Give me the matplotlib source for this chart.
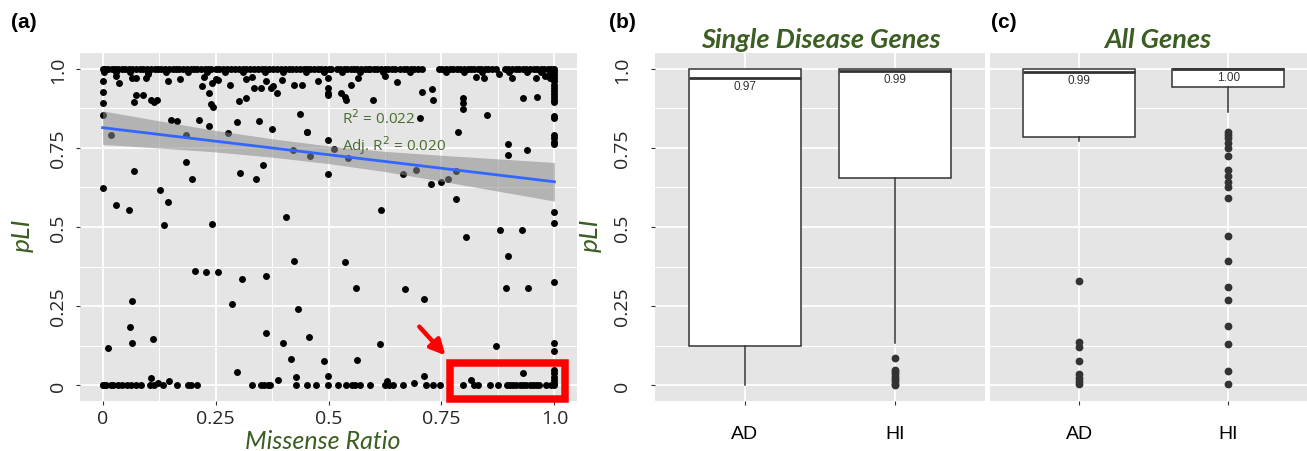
import numpy as np
import matplotlib
matplotlib.use("Agg")
import matplotlib.pyplot as plt
from matplotlib.patches import Rectangle

# ---------------- data ----------------
# panel (a): missense ratio vs pLI
top_x = [0.00,0.005,0.012,0.02,0.028,0.035,0.042,0.05,0.058,0.066,0.075,0.083,0.09,0.098,0.107,0.115,
         0.122,0.13,0.138,0.147,0.155,0.163,0.17,0.178,0.186,0.195,0.203,0.21,0.218,0.226,0.233,0.241,
         0.25,0.258,0.266,0.275,0.285,0.293,0.302,0.31,0.318,0.327,0.335,0.343,0.352,0.36,0.368,0.377,
         0.386,0.395,0.404,0.412,0.42,0.428,0.437,0.445,0.453,0.46,0.468,0.476,0.484,0.492,0.5,0.506,
         0.518,0.526,0.534,0.541,0.549,0.556,0.564,0.572,0.58,0.587,0.592,0.6,0.608,0.616,0.624,0.632,
         0.64,0.648,0.658,0.666,0.674,0.682,0.69,0.698,0.706,0.744,0.752,0.76,0.768,0.776,0.784,0.792,
         0.8,0.808,0.815,0.822,0.83,0.838,0.846,0.854,0.862,0.87,0.89,0.898,0.906,0.914,0.922,0.93,
         0.938,0.946,0.954,0.962,0.97,0.978,0.985,0.992,1.0]
top2_x = [0.003,0.03,0.06,0.1,0.14,0.19,0.23,0.27,0.31,0.36,0.4,0.45,0.49,0.53,0.57,0.62,0.68,
          0.76,0.8,0.84,0.9,0.94,0.97,0.99]
zero_x = [0.0,0.002,0.007,0.018,0.024,0.034,0.044,0.054,0.063,0.074,0.085,0.105,0.113,0.134,0.165,
          0.189,0.196,0.209,0.331,0.351,0.358,0.366,0.371,0.427,0.452,0.473,0.499,0.521,0.539,0.551,
          0.558,0.569,0.591,0.626,0.635,0.643,0.665,0.715,0.731,0.746,0.797,0.823,0.831,0.857,0.875,
          0.894,0.901,0.908,0.916,0.923,0.93,0.938,0.945,0.952,0.96,0.967,0.982,0.993,1.0]
right_col_pli = [0.99,0.98,0.97,0.96,0.95,0.94,0.93,0.92,0.91,0.90,0.895,0.85,0.845,0.79,0.78,0.77,
                 0.763,0.547,0.514,0.325,0.132,0.109,0.048,0.038,0.027,0.017,0.006]
left_col_pli = [0.962,0.927,0.892,0.854,0.624]
other_x = [0.03,0.036,0.065,0.074,0.097,0.1,0.145,0.172,0.22,0.225,0.242,0.252,0.255,0.283,0.318,0.33,
           0.336,0.351,0.362,0.373,0.378,0.386,0.398,0.423,0.441,0.476,0.499,0.499,0.499,0.499,0.528,
           0.537,0.539,0.55,0.565,0.598,0.626,0.651,0.707,0.729,0.731,0.797,0.797,0.797,0.827,0.845,
           0.877,0.906,0.931,0.961,0.96,0.98,0.99,
           0.019,0.07,0.074,0.09,0.108,0.114,0.12,0.152,0.165,0.185,0.213,0.235,0.236,0.24,0.244,0.277,
           0.303,0.318,0.298,0.346,0.374,0.436,0.453,0.499,0.499,0.422,0.458,0.07,0.126,0.145,0.185,
           0.198,0.305,0.339,0.355,0.406,0.03,0.058,0.135,0.242,
           0.452,0.513,0.544,0.702,0.664,0.693,0.726,0.748,0.765,0.782,0.782,0.787,0.851,0.897,0.897,
           0.939,0.617,0.88,0.929,
           0.205,0.229,0.256,0.308,0.362,0.423,0.287,0.432,0.066,0.061,0.066,0.012,0.111,0.362,0.399,
           0.456,0.417,0.491,0.298,0.108,0.122,0.147,0.388,0.427,0.499,
           0.537,0.561,0.563,0.67,0.712,0.613,0.69,0.712,0.63,0.804,0.897,0.893,0.942,0.871,0.815,0.931]
other_pli = [0.976,0.954,0.97,0.97,0.97,0.985,0.96,0.968,0.945,0.975,0.955,0.968,0.965,0.95,0.967,0.975,
             0.94,0.94,0.96,0.94,0.945,0.924,0.965,0.95,0.95,0.962,0.97,0.939,0.923,0.916,0.923,
             0.91,0.902,0.95,0.97,0.902,0.977,0.958,0.928,0.937,0.903,0.909,0.893,0.874,0.975,0.97,
             0.983,0.97,0.907,0.911,0.97,0.976,0.97,
             0.79,0.894,0.917,0.917,0.9,0.895,0.9,0.838,0.834,0.79,0.837,0.82,0.924,0.889,0.878,0.798,
             0.899,0.907,0.832,0.836,0.81,0.858,0.801,0.774,0.666,0.742,0.724,0.676,0.616,0.58,0.707,
             0.652,0.671,0.653,0.697,0.532,0.571,0.553,0.505,0.51,
             0.8,0.745,0.718,0.846,0.669,0.68,0.635,0.641,0.651,0.676,0.589,0.8,0.853,0.761,0.729,
             0.744,0.555,0.492,0.489,
             0.361,0.357,0.359,0.337,0.344,0.393,0.256,0.24,0.266,0.185,0.132,0.116,0.146,0.164,0.132,
             0.152,0.084,0.078,0.042,0.022,0.008,0.012,0.016,0.025,0.029,
             0.389,0.308,0.079,0.304,0.271,0.129,0.007,0.029,0.014,0.468,0.408,0.306,0.306,0.125,0.017,0.038]

# linear fit and confidence band
fit_x = [0.0, 1.0]
fit_y = [0.814, 0.643]
band_x = [0.0, 0.125, 0.25, 0.375, 0.5, 0.625, 0.75, 0.875, 1.0]
band_half = [0.053, 0.043, 0.034, 0.029, 0.028, 0.032, 0.041, 0.051, 0.061]

# panels (b) and (c): box plots
groups = ["AD", "HI"]
b_q1 = [0.124, 0.654]; b_med = [0.972, 0.993]; b_q3 = [1.0, 1.0]
b_wlo = [0.0, 0.132]; b_whi = [1.0, 1.0]
b_fliers = [[], [0.085, 0.048, 0.041, 0.034, 0.027, 0.02, 0.012, 0.005, 0.0]]
c_q1 = [0.785, 0.944]; c_med = [0.991, 0.998]; c_q3 = [1.0, 1.0]
c_wlo = [0.771, 0.863]; c_whi = [1.0, 1.0]
c_fliers = [[0.329, 0.136, 0.12, 0.075, 0.035, 0.024, 0.012, 0.003],
            [0.80, 0.79, 0.78, 0.767, 0.75, 0.725, 0.679, 0.66, 0.643, 0.627, 0.592, 0.471,
             0.392, 0.31, 0.269, 0.188, 0.131, 0.045, 0.003]]

yticks = [0, 0.25, 0.5, 0.75, 1.0]
ytick_labels = ["0", "0.25", "0.5", "0.75", "1.0"]
xticks_a = [0, 0.25, 0.5, 0.75, 1.0]
xtick_labels_a = ["0", "0.25", "0.5", "0.75", "1.0"]

# ---------------- style ----------------
BG = "#E5E5E5"
GREEN = "#3B5E22"
TXT = "#262626"
W, H = 1307, 452

fig = plt.figure(figsize=(W / 100, H / 100), dpi=100)

def ax_rect(x0, x1, y0=54, y1=402):
    return [x0 / W, 1 - y1 / H, (x1 - x0) / W, (y1 - y0) / H]

def style(ax):
    ax.set_facecolor(BG)
    for s in ax.spines.values():
        s.set_visible(False)
    ax.set_axisbelow(True)
    ax.tick_params(axis="both", which="major", length=3, color="#333333", width=0.8)
    ax.tick_params(axis="both", which="minor", length=0)

def hgrid(ax):
    for y in yticks:
        ax.axhline(y, color="white", lw=1.3, zorder=0)
    for y in [0.125, 0.375, 0.625, 0.875]:
        ax.axhline(y, color="white", lw=0.7, zorder=0)

# ---------- panel (a) ----------
axa = fig.add_axes(ax_rect(80, 577))
style(axa)
axa.set_xlim(-0.05, 1.05)
axa.set_ylim(-0.05, 1.05)
hgrid(axa)
for x in xticks_a:
    axa.axvline(x, color="white", lw=1.3, zorder=0)
for x in [0.125, 0.375, 0.625, 0.875]:
    axa.axvline(x, color="white", lw=0.7, zorder=0)

S = 25
axa.scatter(top_x, [1.0] * len(top_x), s=S, color="black", lw=0, zorder=2)
axa.scatter(top2_x, [0.99] * len(top2_x), s=S, color="black", lw=0, zorder=2)
axa.scatter(zero_x, [0.0] * len(zero_x), s=S, color="black", lw=0, zorder=2)
axa.scatter([1.0] * len(right_col_pli), right_col_pli, s=S, color="black", lw=0, zorder=2)
axa.scatter([0.0] * len(left_col_pli), left_col_pli, s=S, color="black", lw=0, zorder=2)
axa.scatter(other_x, other_pli, s=S, color="black", lw=0, zorder=2)

bx = np.array(band_x)
line_at_band = np.interp(bx, fit_x, fit_y)
axa.fill_between(bx, line_at_band - np.array(band_half), line_at_band + np.array(band_half),
                 color="#8a8a8a", alpha=0.55, lw=0, zorder=3)
axa.plot(fit_x, fit_y, color="#3366FF", lw=2.0, zorder=4)

axa.set_xticks(xticks_a)
axa.set_xticklabels(xtick_labels_a, fontsize=14, family="Open Sans", color=TXT)
axa.set_yticks(yticks)
axa.set_yticklabels(ytick_labels, fontsize=14, family="Open Sans", color=TXT,
                    rotation=90, va="center")
axa.tick_params(axis="y", pad=6)
axa.tick_params(axis="x", pad=3)

axa.text(0.53, 0.845, "R$^2$ = 0.022", fontsize=11, color="#4A6B2E", family="Open Sans",
         va="center", ha="left", zorder=5)
axa.text(0.53, 0.76, "Adj. R$^2$ = 0.020", fontsize=11, color="#4A6B2E", family="Open Sans",
         va="center", ha="left", zorder=5)

axa.add_patch(Rectangle((0.770, -0.043), 0.253, 0.114, fill=False, ec="#FF0000", lw=5.4,
                        clip_on=False, zorder=6))
axa.annotate("", xy=(0.759, 0.094), xytext=(0.701, 0.185),
             arrowprops=dict(arrowstyle="-|>,head_length=0.9,head_width=0.45", color="#FF0000",
                             lw=3.2, shrinkA=0, shrinkB=0),
             annotation_clip=False, zorder=6)

fig.text(323 / W, 1 - 449 / H, "Missense Ratio", fontsize=18, color=GREEN, style="italic",
         family="Lato", ha="center", va="baseline")
fig.text(22 / W, 1 - 235 / H, "pLI", fontsize=19, color=GREEN, style="italic",
         family="Lato", ha="center", va="center", rotation=90)

# ---------- box panels ----------
def box_panel(ax, q1, med, q3, wlo, whi, fliers, show_y):
    style(ax)
    ax.set_ylim(-0.05, 1.05)
    hgrid(ax)
    for x in [1, 2]:
        ax.axvline(x, color="white", lw=1.3, zorder=0)
    stats = []
    for i, g in enumerate(groups):
        stats.append(dict(label=g, q1=q1[i], med=med[i], q3=q3[i], whislo=wlo[i], whishi=whi[i],
                          fliers=fliers[i]))
    ax.bxp(stats, positions=[1, 2], widths=0.75, showcaps=False, patch_artist=True,
           boxprops=dict(facecolor="white", edgecolor="#333333", lw=1.1),
           whiskerprops=dict(color="#333333", lw=1.1),
           medianprops=dict(color="#333333", lw=2.0),
           flierprops=dict(marker="o", markerfacecolor="#333333", markeredgecolor="#333333",
                           markersize=4.6, lw=0),
           zorder=2)
    for i, m in enumerate(med):
        ax.text(i + 1, m - 0.025, f"{m:.2f}", fontsize=8.5, color="#333333", ha="center",
                va="center", family="Liberation Sans", zorder=5)
    ax.set_xlim(0.4, 2.6)
    ax.set_xticks([1, 2])
    ax.set_xticklabels(groups, fontsize=14, family="Liberation Sans", color="black")
    ax.tick_params(axis="x", pad=14)
    ax.set_yticks(yticks)
    if show_y:
        ax.set_yticklabels(ytick_labels, fontsize=14, family="Open Sans", color=TXT,
                           rotation=90, va="center")
        ax.tick_params(axis="y", pad=14)
    else:
        ax.set_yticklabels([])
        ax.tick_params(axis="y", length=0)

axb = fig.add_axes(ax_rect(655, 985))
box_panel(axb, b_q1, b_med, b_q3, b_wlo, b_whi, b_fliers, True)
axc = fig.add_axes(ax_rect(990, 1307))
box_panel(axc, c_q1, c_med, c_q3, c_wlo, c_whi, c_fliers, False)
axc.set_xlim(0.4, 2.53)

fig.text(821 / W, 1 - 40 / H, "Single Disease Genes", fontsize=19.5, color=GREEN, style="italic",
         weight="bold", family="Lato", ha="center", va="center")
fig.text(1158 / W, 1 - 40 / H, "All Genes", fontsize=19.5, color=GREEN, style="italic",
         weight="bold", family="Lato", ha="center", va="center")
fig.text(590 / W, 1 - 235 / H, "pLI", fontsize=19, color=GREEN, style="italic",
         family="Lato", ha="center", va="center", rotation=90)

for x, lab in [(24, "(a)"), (622, "(b)"), (1004, "(c)")]:
    fig.text(x / W, 1 - 22 / H, lab, fontsize=15, weight="bold", family="Liberation Sans",
             ha="center", va="center", color="black")

fig.savefig("out.png", dpi=100)
